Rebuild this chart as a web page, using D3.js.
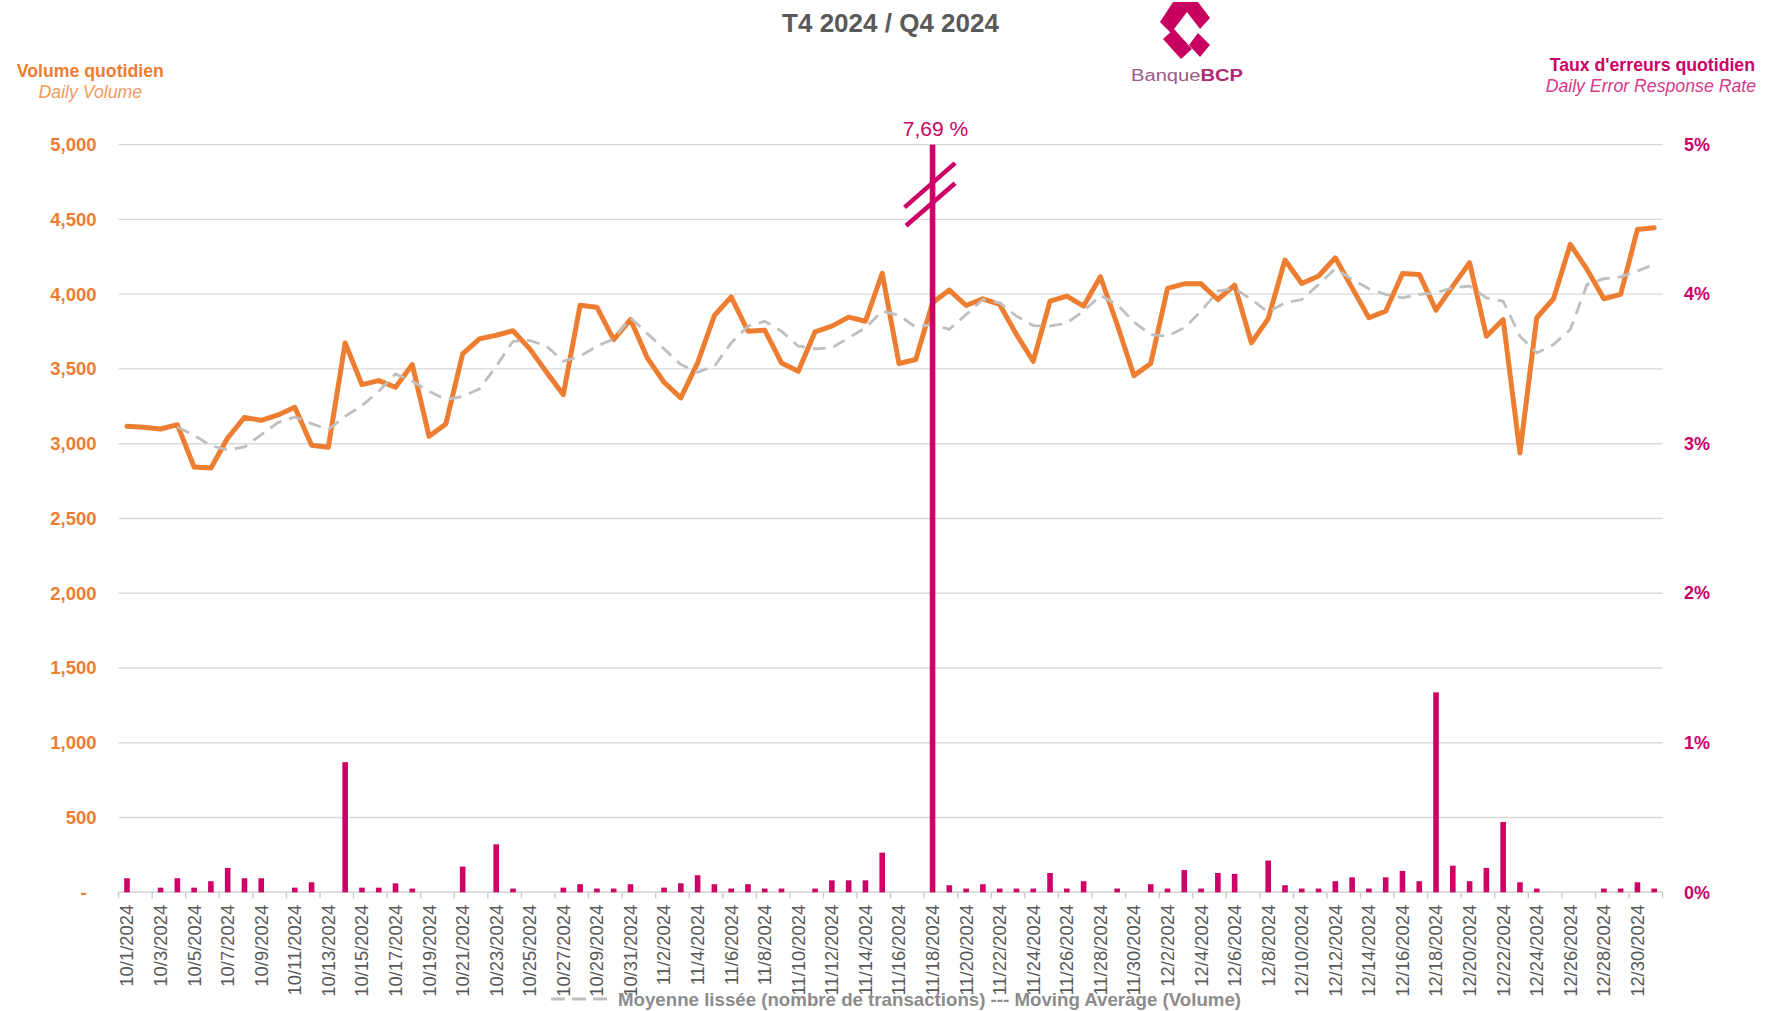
<!DOCTYPE html>
<html>
<head>
<meta charset="utf-8">
<script src="https://cdn.jsdelivr.net/npm/d3@7"></script>
<style>
    body { margin: 0; background: #ffffff; }
    text { font-family: "Liberation Sans", Arial, sans-serif; }
</style>
</head>
<body>
<script>
// categories: one entry per day of Q4 2024
const days = [
    "10/1/2024", "10/2/2024", "10/3/2024", "10/4/2024", "10/5/2024", "10/6/2024", "10/7/2024", "10/8/2024",
    "10/9/2024", "10/10/2024", "10/11/2024", "10/12/2024", "10/13/2024", "10/14/2024", "10/15/2024", "10/16/2024",
    "10/17/2024", "10/18/2024", "10/19/2024", "10/20/2024", "10/21/2024", "10/22/2024", "10/23/2024", "10/24/2024",
    "10/25/2024", "10/26/2024", "10/27/2024", "10/28/2024", "10/29/2024", "10/30/2024", "10/31/2024",
    "11/1/2024", "11/2/2024", "11/3/2024", "11/4/2024", "11/5/2024", "11/6/2024", "11/7/2024", "11/8/2024",
    "11/9/2024", "11/10/2024", "11/11/2024", "11/12/2024", "11/13/2024", "11/14/2024", "11/15/2024", "11/16/2024",
    "11/17/2024", "11/18/2024", "11/19/2024", "11/20/2024", "11/21/2024", "11/22/2024", "11/23/2024", "11/24/2024",
    "11/25/2024", "11/26/2024", "11/27/2024", "11/28/2024", "11/29/2024", "11/30/2024",
    "12/1/2024", "12/2/2024", "12/3/2024", "12/4/2024", "12/5/2024", "12/6/2024", "12/7/2024", "12/8/2024",
    "12/9/2024", "12/10/2024", "12/11/2024", "12/12/2024", "12/13/2024", "12/14/2024", "12/15/2024", "12/16/2024",
    "12/17/2024", "12/18/2024", "12/19/2024", "12/20/2024", "12/21/2024", "12/22/2024", "12/23/2024", "12/24/2024",
    "12/25/2024", "12/26/2024", "12/27/2024", "12/28/2024", "12/29/2024", "12/30/2024", "12/31/2024"
];

// daily volume (transactions)
const volume = [
    3116, 3110, 3098, 3127, 2844, 2837, 3038, 3176, 3156, 3192, 3243, 2989, 2976, 3674, 3395, 3422,
    3377, 3529, 3049, 3132, 3600, 3701, 3725, 3755, 3634, 3478, 3328, 3926, 3913, 3696, 3830,
    3574, 3411, 3306, 3540, 3857, 3982, 3752, 3759, 3540, 3484, 3748, 3786, 3846, 3819, 4140, 3536,
    3563, 3942, 4027, 3924, 3969, 3931, 3730, 3551, 3953, 3987, 3920, 4116, 3797, 3455,
    3536, 4038, 4069, 4069, 3964, 4060, 3674, 3836, 4228, 4071, 4121, 4243, 4042, 3842, 3886, 4138,
    4132, 3893, 4054, 4210, 3719, 3830, 2938, 3842, 3969, 4333, 4165, 3969, 3998, 4433, 4444
];

// moving average of the volume (null where the trendline has no point yet)
const movingAvg = [
    null, null, null, 3112, 3056, 2987, 2958, 2978, 3060, 3141, 3179, 3134, 3094, 3183, 3254, 3350,
    3467, 3418, 3350, 3295, 3317, 3366, 3518, 3685, 3690, 3652, 3551, 3585, 3652, 3701, 3842,
    3737, 3634, 3529, 3478, 3518, 3674, 3786, 3819, 3752, 3652, 3634, 3641, 3708, 3775, 3886, 3858,
    3779, 3797, 3764, 3864, 3964, 3942, 3853, 3790, 3786, 3808, 3886, 3991, 3931, 3813,
    3730, 3719, 3775, 3886, 4020, 4038, 3964, 3880, 3942, 3964, 4065, 4170, 4098, 4036, 3998, 3975,
    3998, 4009, 4042, 4054, 3975, 3953, 3719, 3607, 3663, 3764, 4065, 4103, 4116, 4154, 4200
];

// daily error response rate in %
const errorRate = [
    0.094, 0, 0.031, 0.094, 0.031, 0.074, 0.163, 0.094, 0.094, 0, 0.031, 0.067, 0, 0.87, 0.031, 0.031,
    0.06, 0.025, 0, 0, 0.172, 0, 0.321, 0.025, 0, 0, 0.031, 0.054, 0.025, 0.025, 0.054,
    0, 0.031, 0.06, 0.114, 0.054, 0.025, 0.054, 0.025, 0.025, 0, 0.025, 0.08, 0.08, 0.08, 0.265, 0,
    0, 7.69, 0.047, 0.025, 0.054, 0.025, 0.025, 0.025, 0.129, 0.025, 0.074, 0, 0.025, 0,
    0.054, 0.025, 0.149, 0.025, 0.129, 0.123, 0, 0.212, 0.047, 0.025, 0.025, 0.074, 0.1, 0.025, 0.1, 0.143,
    0.074, 1.337, 0.178, 0.074, 0.163, 0.47, 0.067, 0.025, 0, 0, 0, 0.025, 0.025, 0.067, 0.025
];

const volumeTicks = [0, 500, 1000, 1500, 2000, 2500, 3000, 3500, 4000, 4500, 5000];
const rateTicks = [0, 1, 2, 3, 4, 5];
const labelDays = days.filter((d, i) => i % 2 === 0);   //every second day gets a label

const orange = "#ED7D31", magenta = "#CC0066", gray = "#595959";

let margin = { top: 144.6, right: 108.4, bottom: 118.7, left: 118.6 }, width = 1544, height = 747.7;

let svg = d3.select("body").append("svg")
    .attr("width", 1771)
    .attr("height", 1011);

let g = svg.append("g")
    .attr("transform", "translate(" + margin.left + "," + margin.top + ")");

let xScale = d3.scaleBand()
    .domain(days)
    .range([0, width])
    .padding(0);
const bw = xScale.bandwidth();

let yVol = d3.scaleLinear()
    .domain([0, 5000])
    .range([height, 0]);

let yRate = d3.scaleLinear()
    .domain([0, 5])
    .range([height, 0]);

// horizontal gridlines
g.append("g")
    .selectAll("line")
    .data(volumeTicks)
    .enter().append("line")
    .attr("x1", 0)
    .attr("x2", width)
    .attr("y1", d => yVol(d))
    .attr("y2", d => yVol(d))
    .attr("stroke", "#D9D9D9")
    .attr("stroke-width", 1.4);

// small tick marks between every second category
g.append("g")
    .selectAll("line")
    .data(labelDays.map(d => xScale(d)).concat([width]))
    .enter().append("line")
    .attr("x1", d => d)
    .attr("x2", d => d)
    .attr("y1", height)
    .attr("y2", height + 6)
    .attr("stroke", "#C8C8C8")
    .attr("stroke-width", 1.4);

// left axis (volume)
let leftAxis = g.append("g")
    .call(d3.axisLeft(yVol)
        .tickValues(volumeTicks)
        .tickSize(0)
        .tickPadding(22)
        .tickFormat(d => d === 0 ? "-" : d3.format(",")(d)));
leftAxis.select(".domain").remove();
leftAxis.selectAll("text")
    .attr("fill", orange)
    .style("font-size", "18.5px")
    .style("font-weight", "bold")
    .style("font-family", "'Liberation Sans', Arial, sans-serif");
leftAxis.selectAll(".tick").filter(d => d === 0).select("text").attr("dx", -10);

// right axis (error rate)
let rightAxis = g.append("g")
    .attr("transform", "translate(" + width + ",0)")
    .call(d3.axisRight(yRate)
        .tickValues(rateTicks)
        .tickSize(0)
        .tickPadding(21.4)
        .tickFormat(d => d + "%"));
rightAxis.select(".domain").remove();
rightAxis.selectAll("text")
    .attr("fill", magenta)
    .style("font-size", "18px")
    .style("font-weight", "bold")
    .style("font-family", "'Liberation Sans', Arial, sans-serif");

// bottom axis with rotated dates
let bottomAxis = g.append("g")
    .attr("transform", "translate(0," + height + ")")
    .call(d3.axisBottom(xScale)
        .tickValues(labelDays)
        .tickSize(0));
bottomAxis.select(".domain").remove();
bottomAxis.selectAll("text")
    .attr("transform", "rotate(-90)")
    .attr("x", -12.5)
    .attr("y", 0)
    .attr("dy", "0.35em")
    .style("text-anchor", "end")
    .attr("fill", gray)
    .style("font-size", "18.4px")
    .style("font-family", "'Liberation Sans', Arial, sans-serif");

// the x axis line itself
g.append("line")
    .attr("x1", 0)
    .attr("x2", width)
    .attr("y1", height)
    .attr("y2", height)
    .attr("stroke", "#D9D9D9")
    .attr("stroke-width", 1.6);

// daily volume line
let volLine = d3.line()
    .x((d, i) => xScale(days[i]) + bw / 2)
    .y(d => yVol(d));

g.append("path")
    .datum(volume)
    .attr("fill", "none")
    .attr("stroke", orange)
    .attr("stroke-width", 5)
    .attr("stroke-linejoin", "round")
    .attr("stroke-linecap", "round")
    .attr("d", volLine);

// moving average, dashed
let avgLine = d3.line()
    .defined(d => d !== null)
    .x((d, i) => xScale(days[i]) + bw / 2)
    .y(d => yVol(d));

g.append("path")
    .datum(movingAvg)
    .attr("fill", "none")
    .attr("stroke", "#BFBFBF")
    .attr("stroke-width", 2.8)
    .attr("stroke-dasharray", "13,8")
    .attr("d", avgLine);

// error rate bars, capped at the top of the axis
const barW = 5.6;
g.append("g")
    .selectAll("rect")
    .data(errorRate.map((v, i) => ({ day: days[i], v: v })).filter(d => d.v > 0))
    .enter().append("rect")
    .attr("x", d => xScale(d.day) + bw / 2 - barW / 2)
    .attr("y", d => yRate(Math.min(d.v, 5)))
    .attr("width", barW)
    .attr("height", d => height - yRate(Math.min(d.v, 5)))
    .attr("fill", magenta);

// axis break on the outlier bar
const outlierIndex = errorRate.indexOf(d3.max(errorRate));
const cx = xScale(days[outlierIndex]) + bw / 2;
const breaks = [
    { x1: cx - 28, r1: 4.58, x2: cx + 22.5, r2: 4.876 },
    { x1: cx - 26.5, r1: 4.457, x2: cx + 22.5, r2: 4.742 }
];
g.append("g")
    .selectAll("line")
    .data(breaks)
    .enter().append("line")
    .attr("x1", d => d.x1)
    .attr("x2", d => d.x2)
    .attr("y1", d => yRate(d.r1))
    .attr("y2", d => yRate(d.r2))
    .attr("stroke", magenta)
    .attr("stroke-width", 4.5);

g.append("text")
    .attr("x", cx + 3)
    .attr("y", yRate(5) - 8.6)
    .attr("text-anchor", "middle")
    .attr("fill", magenta)
    .style("font-size", "21px")
    .text(d3.format(".2f")(errorRate[outlierIndex]).replace(".", ",") + " %");

// title and axis titles
svg.append("text")
    .attr("x", 890.5)
    .attr("y", 32)
    .attr("text-anchor", "middle")
    .attr("fill", gray)
    .style("font-size", "26px")
    .style("font-weight", "bold")
    .text("T4 2024 / Q4 2024");

svg.append("text")
    .attr("x", 90.3).attr("y", 76.5)
    .attr("text-anchor", "middle")
    .attr("fill", orange)
    .style("font-size", "17.7px")
    .style("font-weight", "bold")
    .text("Volume quotidien");
svg.append("text")
    .attr("x", 90.3).attr("y", 98)
    .attr("text-anchor", "middle")
    .attr("fill", "#F29A5C")
    .style("font-size", "17.7px")
    .style("font-style", "italic")
    .text("Daily Volume");

svg.append("text")
    .attr("x", 1755).attr("y", 70.5)
    .attr("text-anchor", "end")
    .attr("fill", magenta)
    .style("font-size", "17.7px")
    .style("font-weight", "bold")
    .text("Taux d'erreurs quotidien");
svg.append("text")
    .attr("x", 1756).attr("y", 92)
    .attr("text-anchor", "end")
    .attr("fill", "#D8388A")
    .style("font-size", "17.7px")
    .style("font-style", "italic")
    .text("Daily Error Response Rate");

// logo, rough shapes
let logo = svg.append("g").attr("transform", "translate(1160,2)");
const logoShapes = [
    [[13, 0], [38, 0], [50, 16], [40, 27], [27, 10], [11, 31], [0, 20]],
    [[3, 37], [14, 27], [32, 47], [21, 57]],
    [[38, 31], [50, 43], [40, 55], [29, 43]]
];
logo.selectAll("polygon")
    .data(logoShapes)
    .enter().append("polygon")
    .attr("points", d => d.map(p => p.join(",")).join(" "))
    .attr("fill", "#C8005F");
let logoText = svg.append("text")
    .attr("x", 1131).attr("y", 80.5)
    .attr("textLength", 112)
    .attr("lengthAdjust", "spacingAndGlyphs")
    .style("font-size", "16px");
logoText.append("tspan").attr("fill", "#9E5A84").text("Banque");
logoText.append("tspan").attr("fill", "#B02A72").style("font-weight", "bold").text("BCP");

// legend at the bottom
svg.append("line")
    .attr("x1", 551).attr("x2", 611)
    .attr("y1", 999).attr("y2", 999)
    .attr("stroke", "#BFBFBF")
    .attr("stroke-width", 3)
    .attr("stroke-dasharray", "14,7");
svg.append("text")
    .attr("x", 618).attr("y", 1005.5)
    .attr("textLength", 623)
    .attr("lengthAdjust", "spacingAndGlyphs")
    .attr("fill", "#8C8C8C")
    .style("font-size", "18.6px")
    .style("font-weight", "bold")
    .text("Moyenne lissée (nombre de transactions) --- Moving Average (Volume)");
</script>
</body>
</html>
